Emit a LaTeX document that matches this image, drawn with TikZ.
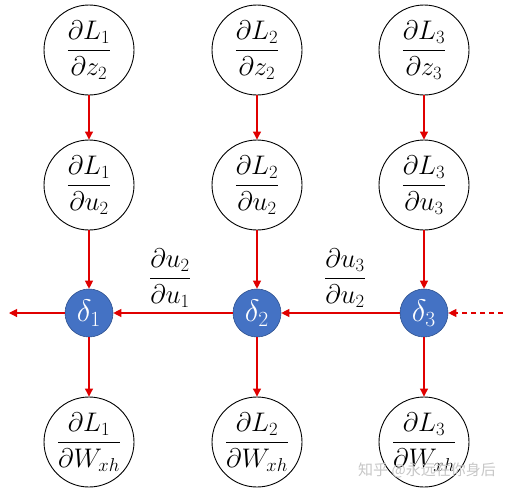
\documentclass[tikz,border=0pt]{standalone}
\usepackage{amsmath}
\usepackage{graphicx}
\usepackage{fontspec}
\newfontfamily\cjkwm{Noto Sans CJK SC}
\usetikzlibrary{arrows.meta}
\definecolor{arrred}{HTML}{E00000}
\definecolor{dblue}{HTML}{4472C4}
\definecolor{dblueb}{HTML}{2F528F}
\newcommand{\dlt}[1]{\scalebox{1.25}{$\delta_{#1}$}}
\newcommand{\frc}[2]{\scalebox{1.08}{$\dfrac{#1}{#2}$}}
\tikzset{
  bignode/.style={circle, draw=black, line width=0.9pt, minimum size=90pt, inner sep=0pt, font=\fontsize{24}{28}\selectfont},
  deltanode/.style={circle, fill=dblue, draw=dblueb, line width=0.6pt, minimum size=48pt, inner sep=0pt, text=white, font=\fontsize{24}{28}\selectfont},
  conn/.style={color=arrred, line width=1.1pt, -{Triangle[width=8pt,length=8pt]}},
  lbl/.style={font=\fontsize{24}{28}\selectfont, inner sep=0pt}
}
\begin{document}
\begin{tikzpicture}[x=1pt,y=-1pt]
\useasboundingbox (0,0) rectangle (510,493);
\node[bignode] (z1) at (89,50) {\frc{\partial L_1}{\partial z_2}};
\node[bignode] (z2) at (257,50) {\frc{\partial L_2}{\partial z_2}};
\node[bignode] (z3) at (424,50) {\frc{\partial L_3}{\partial z_3}};
\node[bignode] (u1) at (89,185) {\frc{\partial L_1}{\partial u_2}};
\node[bignode] (u2) at (257,185) {\frc{\partial L_2}{\partial u_2}};
\node[bignode] (u3) at (424,185) {\frc{\partial L_3}{\partial u_3}};
\node[deltanode] (d1) at (89,313) {\dlt{1}};
\node[deltanode] (d2) at (257,313) {\dlt{2}};
\node[deltanode] (d3) at (424,313) {\dlt{3}};
\node[bignode] (w1) at (89,442) {\frc{\partial L_1}{\partial W_{xh}}};
\node[bignode] (w2) at (257,442) {\frc{\partial L_2}{\partial W_{xh}}};
\node[bignode] (w3) at (424,442) {\frc{\partial L_3}{\partial W_{xh}}};
\coordinate (lend) at (9,313);
\coordinate (rstart) at (503,313);
\foreach \i in {1,2,3}{
  \draw[conn] (z\i) -- (u\i);
  \draw[conn] (u\i) -- (d\i);
  \draw[conn] (d\i) -- (w\i);
}
\draw[conn] (d3) -- (d2);
\draw[conn] (d2) -- (d1);
\draw[conn] (d1) -- (lend);
\draw[conn, dash pattern=on 5pt off 4pt] (rstart) -- (d3);
\node[lbl] (l1) at (170,278) {\frc{\partial u_2}{\partial u_1}};
\node[lbl] (l2) at (345,278) {\frc{\partial u_3}{\partial u_2}};
\node[text=gray!45, font=\cjkwm\fontsize{15}{18}\selectfont, anchor=west, inner sep=0pt] (wm) at (358,470) {知乎 @永远在你身后};
\end{tikzpicture}
\end{document}
